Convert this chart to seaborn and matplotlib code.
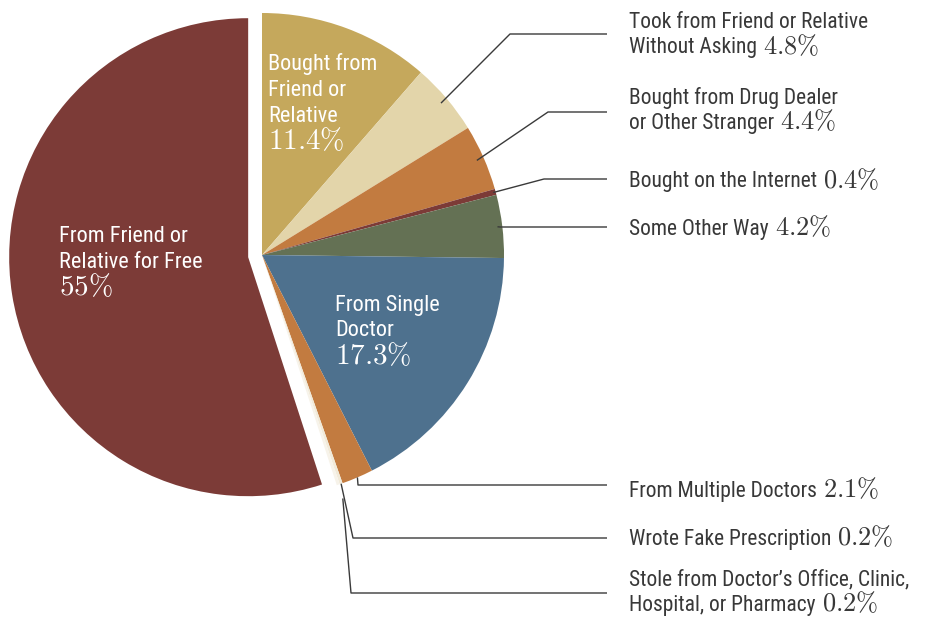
import os
import numpy as np
import matplotlib.pyplot as plt
from matplotlib import font_manager as fm
import seaborn as sns

# where misused pain relievers were obtained, in percent
sources = ["Bought from Friend or Relative",
           "Took from Friend or Relative Without Asking",
           "Bought from Drug Dealer or Other Stranger",
           "Bought on the Internet",
           "Some Other Way",
           "From Single Doctor",
           "From Multiple Doctors",
           "Wrote Fake Prescription",
           "Stole from Doctor\u2019s Office, Clinic, Hospital, or Pharmacy",
           "From Friend or Relative for Free"]
shares = [11.4, 4.8, 4.4, 0.4, 4.2, 17.3, 2.1, 0.2, 0.2, 55]
pct_text = ["11.4", "4.8", "4.4", "0.4", "4.2", "17.3", "2.1", "0.2", "0.2", "55"]

# how each label is broken over lines in the picture
wrapped = ["Bought from\nFriend or\nRelative",
           "Took from Friend or Relative\nWithout Asking",
           "Bought from Drug Dealer\nor Other Stranger",
           "Bought on the Internet",
           "Some Other Way",
           "From Single\nDoctor",
           "From Multiple Doctors",
           "Wrote Fake Prescription",
           "Stole from Doctor\u2019s Office, Clinic,\nHospital, or Pharmacy",
           "From Friend or\nRelative for Free"]

colors = ["#c5a85c", "#e3d5aa", "#c27b40", "#7c3b37", "#647154",
          "#4e718e", "#c27b40", "#f1ead9", "#f7f3ea", "#7c3b37"]

sns.set_theme(style="white")
plt.rcParams["mathtext.fontset"] = "cm"


def narrow_font():
    # the labels use a condensed grotesque; take whatever narrow face is installed
    prefs = ["liberationsansnarrow-regular", "robotocondensed-regular",
             "notosans-condensed.", "notosans-semicondensed.",
             "dejavusanscondensed.", "opensans-condensedregular",
             "opensans_condensed-regular"]
    files = [f.fname for f in fm.fontManager.ttflist]
    for p in prefs:
        for f in files:
            if p in os.path.basename(f).lower():
                return fm.FontProperties(fname=f)
    return fm.FontProperties(family=["Liberation Sans", "DejaVu Sans"])


FP = narrow_font()

W, H = 926, 618
CX, CY, R = 262, 255, 242          # pie centre / radius in pixels (y from top)
TXT = "#383838"

fig = plt.figure(figsize=(W / 100, H / 100), dpi=100)
ax = fig.add_axes([0, 0, 1, 1])

explode = [0] * (len(shares) - 1) + [14]
wedges, _ = ax.pie(shares, colors=sns.color_palette(colors), startangle=90,
                   counterclock=False, explode=explode, center=(CX, H - CY),
                   radius=R, wedgeprops=dict(linewidth=0))
wedges[-1].set_radius(R - 3)   # pulled-out slice is drawn a touch smaller
ax.set_xlim(0, W)
ax.set_ylim(0, H)
ax.set_aspect("equal")
ax.axis("off")

cum = np.cumsum(shares)
mid = cum - np.array(shares) / 2
ang = np.deg2rad(90 - 3.6 * mid)

# labels inside the big slices: (index, x, y of first line)
inside = [(0, 268, 64), (9, 59, 236), (5, 335, 305)]
for i, x, y in inside:
    lines = wrapped[i].split("\n")
    for k, ln in enumerate(lines):
        ax.text(x, H - (y + 26 * k), ln, color="white", fontproperties=FP,
                fontsize=16, ha="left", va="center")
    ax.text(x, H - (y + 26 * len(lines)) + 1, "$%s\\%%$" % pct_text[i],
            color="white", fontsize=21, ha="left", va="center")

# outside labels: (index, radius fraction of anchor, elbow x, elbow y, text y of first line)
outside = [(1, 0.97, 510, 34, 23),
           (2, 0.97, 548, 112, 98),
           (3, 0.99, 544, 179, 182),
           (4, 0.98, 500, 227, 229),
           (6, 1.00, 358, 485, 491),
           (7, 1.00, 353, 538, 539),
           (8, 1.06, 351, 593, 580)]
for i, f, ex, ey, ty in outside:
    px = CX + f * R * np.cos(ang[i])
    py = H - CY + f * R * np.sin(ang[i])
    ax.plot([px, ex, 607], [py, H - ey, H - ey], color="#3a3a3a", lw=1.0,
            solid_capstyle="butt")
    lines = wrapped[i].split("\n")
    for k, ln in enumerate(lines):
        t = ax.text(629, H - (ty + 25 * k), ln, color=TXT, fontproperties=FP,
                    fontsize=15.5, ha="left", va="center")
    ax.annotate("$%s\\%%$" % pct_text[i], xy=(1, 0.5), xycoords=t,
                xytext=(6, 1), textcoords="offset pixels", color=TXT,
                fontsize=19, ha="left", va="center")

fig.savefig("out.png", dpi=100)
